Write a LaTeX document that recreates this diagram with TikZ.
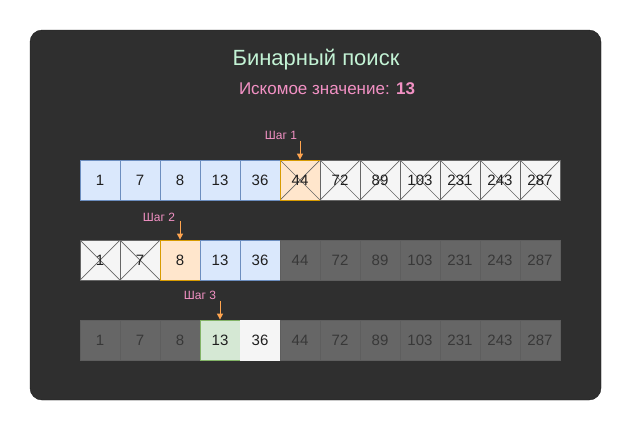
\documentclass[tikz,border=0pt]{standalone}
\usepackage{fontspec}
\setmainfont{Liberation Sans}
\usepackage{xcolor}
\usepackage{tikz}
\usetikzlibrary{arrows.meta,positioning}
\definecolor{panelFill}{HTML}{2F2F2F}
\definecolor{panelLine}{HTML}{1C1C1C}
\definecolor{blueFill}{HTML}{DAE8FC}
\definecolor{blueLine}{HTML}{6C8EBF}
\definecolor{orangeFill}{HTML}{FFE6CC}
\definecolor{orangeLine}{HTML}{D79B00}
\definecolor{greenFill}{HTML}{D5E8D4}
\definecolor{greenLine}{HTML}{82B366}
\definecolor{crossFill}{HTML}{F5F5F5}
\definecolor{crossLine}{HTML}{666666}
\definecolor{grayFill}{HTML}{666666}
\definecolor{grayLine}{HTML}{5E5E5E}
\definecolor{grayText}{HTML}{383838}
\definecolor{titleCol}{HTML}{C3F3D5}
\definecolor{pinkCol}{HTML}{F291C4}
\definecolor{arrowCol}{HTML}{FFA54F}

\begin{document}
\begin{tikzpicture}[
				x = 1pt, y = -1pt,
				every node/.style = {font = \fontsize{15}{18}\selectfont, text = black!88},
				cell/.style = {draw, minimum width = 40pt, minimum height = 40pt, inner sep = 0pt, line width = 0.8pt},
				bluecell/.style = {cell, fill = blueFill, draw = blueLine},
				orangecell/.style = {cell, fill = orangeFill, draw = orangeLine},
				greencell/.style = {cell, fill = greenFill, draw = greenLine},
				whitecell/.style = {cell, fill = crossFill, draw = crossFill},
				graycell/.style = {cell, fill = grayFill, draw = grayLine, text = grayText},
				crossed/.style = {path picture = {\draw [crossLine, line width = 0.7pt] (path picture bounding box.north west) -- (path picture bounding box.south east) (path picture bounding box.north east) -- (path picture bounding box.south west);}},
				crosscell/.style = {cell, fill = crossFill, draw = crossLine, crossed},
				steplabel/.style = {font = \fontsize{12}{14}\selectfont, text = pinkCol, inner sep = 0pt},
				stepline/.style = {draw = arrowCol, line width = 1pt, -{Triangle[width = 6pt, length = 6pt]}}
				]
				\useasboundingbox (0,0) rectangle (631,432);
				\fill [white] (0,0) rectangle (631,432);
				\draw [fill = panelFill, draw = panelLine, rounded corners = 12pt] (30,30) rectangle (601,400);
				
				\node [font = \fontsize{22}{26}\selectfont, text = titleCol] (title) at (316,60) {Бинарный поиск};
				\node [font = \fontsize{17}{20}\selectfont, text = pinkCol] (goal) at (327,89) {Искомое значение: \textbf{13}};
				
				% step 1
				\foreach \v [count = \i] in {1,7,8,13,36}
					\node [bluecell] (r1c\i) at (60+40*\i,180) {\v};
				\node [orangecell, crossed] (r1c6) at (300,180) {44};
				\foreach \v [count = \i from 7] in {72,89,103,231,243,287}
					\node [crosscell] (r1c\i) at (60+40*\i,180) {\v};
				
				% step 2
				\foreach \v [count = \i] in {1,7}
					\node [crosscell] (r2c\i) at (60+40*\i,260) {\v};
				\node [orangecell] (r2c3) at (180,260) {8};
				\foreach \v [count = \i from 4] in {13,36}
					\node [bluecell] (r2c\i) at (60+40*\i,260) {\v};
				\foreach \v [count = \i from 6] in {44,72,89,103,231,243,287}
					\node [graycell] (r2c\i) at (60+40*\i,260) {\v};
				
				% step 3
				\foreach \v [count = \i] in {1,7,8}
					\node [graycell] (r3c\i) at (60+40*\i,340) {\v};
				\node [greencell] (r3c4) at (220,340) {13};
				\node [whitecell] (r3c5) at (260,340) {36};
				\foreach \v [count = \i from 6] in {44,72,89,103,231,243,287}
					\node [graycell] (r3c\i) at (60+40*\i,340) {\v};
				
				\node [steplabel] (lbl1) at (281,135) {Шаг 1};
				\coordinate (s1) at (300,141);
				\draw [stepline] (s1) -- (r1c6.north);
				
				\node [steplabel] (lbl2) at (159,217) {Шаг 2};
				\coordinate (s2) at (180,221);
				\draw [stepline] (s2) -- (r2c3.north);
				
				\node [steplabel] (lbl3) at (200,295) {Шаг 3};
				\coordinate (s3) at (220,301);
				\draw [stepline] (s3) -- (r3c4.north);
			\end{tikzpicture}
\end{document}
